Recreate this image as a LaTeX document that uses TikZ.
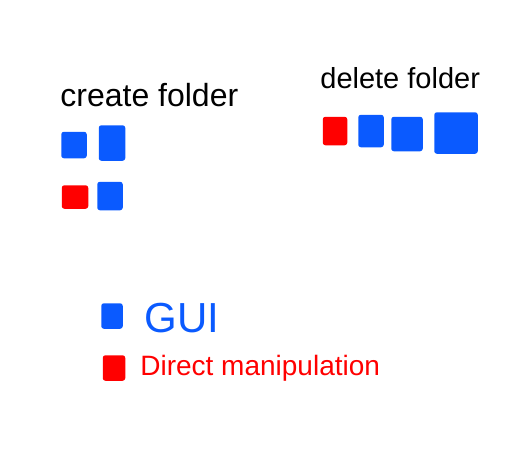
\documentclass[tikz,border=0pt]{standalone}
\usepackage{fontspec}
\setmainfont{Liberation Sans}
\definecolor{guiblue}{RGB}{10,90,255}
\definecolor{dmred}{RGB}{255,0,0}
\tikzset{every picture/.style={line width=0.75pt}}
\tikzset{
  sketchbox/.style={draw, line width=1.5pt, rounded corners=2pt, inner sep=0pt},
  guibox/.style={sketchbox, draw=guiblue, fill=guiblue},
  dmbox/.style={sketchbox, draw=dmred, fill=dmred},
  handtext/.style={inner sep=0pt, font=\fontsize{#1}{#1}\selectfont},
  handtext/.default=25
}
\begin{document}
\begin{tikzpicture}[x=1pt,y=1pt,yscale=-1,xscale=1]
\useasboundingbox (0,0) rectangle (512,448);

% Text Node
\node[handtext=32, anchor=west] (create) at (60,95) {create folder};
% Text Node
\node[handtext=29, anchor=west] (delete) at (320,78) {delete folder};

%Shape: create folder boxes
\node[guibox, minimum width=24pt, minimum height=25pt] (cA) at (74,145) {};
\node[guibox, minimum width=25pt, minimum height=34pt] (cB) at (112,143) {};
\node[dmbox, minimum width=25pt, minimum height=22pt] (cC) at (75,197) {};
\node[guibox, minimum width=24pt, minimum height=27pt] (cD) at (110,196) {};

%Shape: delete folder boxes
\node[dmbox, minimum width=23pt, minimum height=27pt] (dA) at (335,131) {};
\node[guibox, minimum width=24pt, minimum height=31pt] (dB) at (371,131) {};
\node[guibox, minimum width=30pt, minimum height=33pt] (dC) at (407,134) {};
\node[guibox, minimum width=42pt, minimum height=40pt] (dD) at (456,133) {};

%Shape: legend boxes
\node[guibox, minimum width=20pt, minimum height=24pt] (lgui) at (112,316) {};
\node[dmbox, minimum width=21pt, minimum height=24pt] (ldm) at (114,368) {};

% Text Node
\node[handtext=42, text=guiblue, anchor=west] (gui) at (144,318) {GUI};
% Text Node
\node[handtext=28, text=dmred, anchor=west] (dm) at (140,368) {Direct manipulation};

\end{tikzpicture}
\end{document}
